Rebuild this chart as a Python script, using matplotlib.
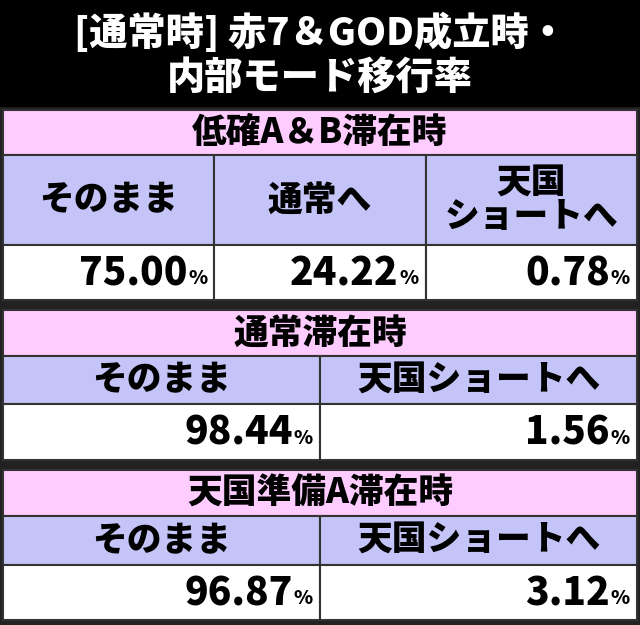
import matplotlib
matplotlib.use("Agg")
import matplotlib.pyplot as plt
from matplotlib.patches import Rectangle

plt.rcParams['font.family'] = ['Noto Sans CJK JP', 'DejaVu Sans']

title_lines = ["[通常時] 赤7＆GOD成立時・", "内部モード移行率"]
sections = ["低確A＆B滞在時", "通常滞在時", "天国準備A滞在時"]
headers = [["そのまま", "通常へ", "天国\nショートへ"],
           ["そのまま", "天国ショートへ"],
           ["そのまま", "天国ショートへ"]]
values = [["75.00", "24.22", "0.78"],
          ["98.44", "1.56"],
          ["96.87", "3.12"]]

rows = [(110, 155, 245, 300), (310, 356, 404, 460), (470, 516, 565, 620)]
PINK = "#FFCCFF"; LAV = "#C4C4F8"; EDGE = "#333333"

fig = plt.figure(figsize=(6.4, 6.25), dpi=100)
ax = fig.add_axes([0, 0, 1, 1])
ax.set_xlim(0, 640); ax.set_ylim(625, 0); ax.axis('off')
ax.add_patch(Rectangle((0, 0), 640, 625, color="#222222", zorder=0))
ax.add_patch(Rectangle((0, 0), 640, 106, color="black", zorder=1))
ax.text(320, 33, title_lines[0], color="white", fontsize=27.5, fontweight='black', ha='center', va='center')
ax.text(320, 78, title_lines[1], color="white", fontsize=27.5, fontweight='black', ha='center', va='center')

L, R = 3, 637
for s, (t, pb, lb, wb) in enumerate(rows):
    ax.add_patch(Rectangle((L, t), R-L, pb-t, fc=PINK, ec=EDGE, lw=1.5))
    ax.text(320, (t+pb)/2, sections[s], fontsize=25, fontweight='black', ha='center', va='center')
    n = len(headers[s])
    w = (R-L)/n
    for i in range(n):
        x0 = L + i*w
        ax.add_patch(Rectangle((x0, pb), w, lb-pb, fc=LAV, ec=EDGE, lw=1.5))
        ax.add_patch(Rectangle((x0, lb), w, wb-lb, fc="white", ec=EDGE, lw=1.5))
        ax.text(x0 + w/2, (pb+lb)/2, headers[s][i], fontsize=25, fontweight='black',
                ha='center', va='center', linespacing=0.95)
        ax.text(x0 + w - 27, (lb+wb)/2 + 1, values[s][i], fontsize=28, fontweight='black',
                ha='right', va='center')
        ax.text(x0 + w - 7, (lb+wb)/2 + 6, "%", fontsize=14, fontweight='black',
                ha='right', va='center')

fig.savefig("out.png", dpi=100)
